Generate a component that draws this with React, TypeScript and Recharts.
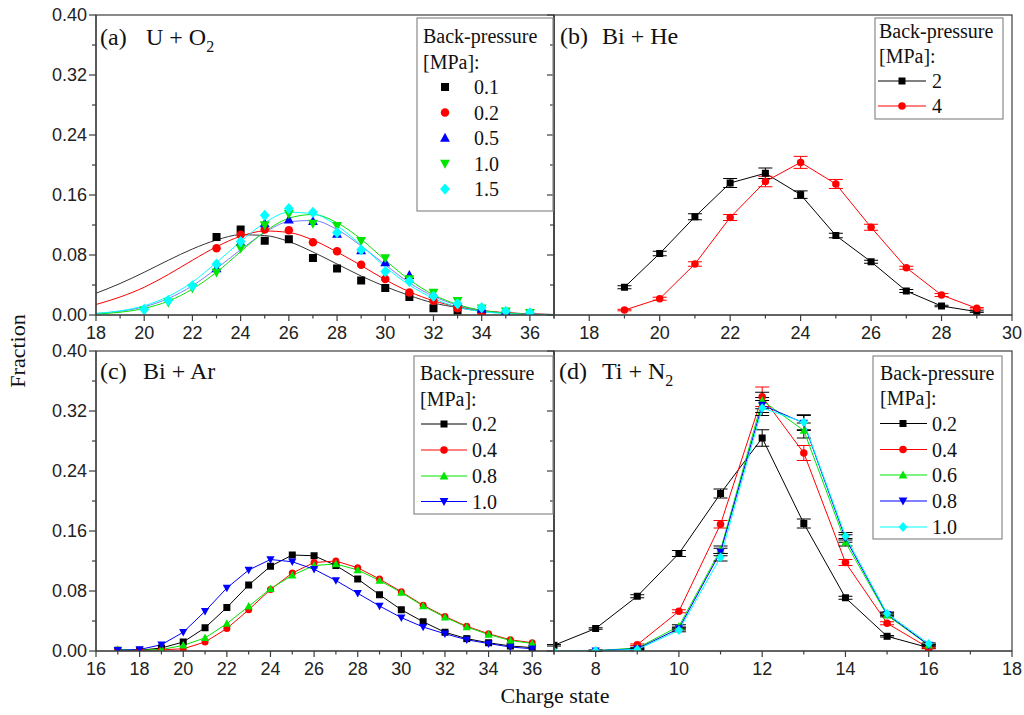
import { ComposedChart, ErrorBar, Line, XAxis, YAxis } from "recharts";

// ---------- (a) U + O2 : measured points ----------
const aX01 = [23, 24, 25, 26, 27, 28, 29, 30, 31, 32, 33, 34, 35];
const aY01 = [0.104, 0.114, 0.099, 0.101, 0.076, 0.062, 0.046, 0.036, 0.024, 0.009, 0.006, 0.002, 0.001];
const aX02 = [23, 24, 25, 26, 27, 28, 29, 30, 31, 32, 33, 34, 35];
const aY02 = [0.089, 0.107, 0.114, 0.113, 0.097, 0.085, 0.067, 0.048, 0.03, 0.019, 0.009, 0.003, 0.001];
const aX05 = [23, 24, 25, 26, 27, 28, 29, 30, 31, 32, 33, 34, 35, 36];
const aY05 = [0.062, 0.097, 0.122, 0.127, 0.125, 0.108, 0.086, 0.07, 0.053, 0.028, 0.017, 0.008, 0.004, 0.002];
const aX10 = [20, 21, 22, 23, 24, 25, 26, 27, 28, 29, 30, 31, 32, 33, 34, 35, 36];
const aY10 = [0.006, 0.017, 0.036, 0.057, 0.089, 0.12, 0.135, 0.122, 0.119, 0.099, 0.076, 0.048, 0.03, 0.019, 0.009, 0.005, 0.003];
const aX15 = [20, 21, 22, 23, 24, 25, 26, 27, 28, 29, 30, 31, 32, 33, 34, 35, 36];
const aY15 = [0.0075, 0.0195, 0.039, 0.068, 0.098, 0.133, 0.142, 0.137, 0.11, 0.087, 0.058, 0.045, 0.025, 0.015, 0.01, 0.005, 0.003];

// ---------- (a) fitted curves ----------
const aFitX = [18, 19, 20, 21, 22, 23, 24, 25, 26, 27, 28, 29, 30, 31, 32, 33, 34, 35, 36, 37];
const aFit01 = [0.029, 0.042, 0.057, 0.073, 0.088, 0.1, 0.107, 0.106, 0.098, 0.084, 0.068, 0.052, 0.038, 0.026, 0.016, 0.01, 0.005, 0.003, 0.0015, 0.0007];
const aFit02 = [0.014, 0.024, 0.037, 0.054, 0.073, 0.091, 0.105, 0.112, 0.11, 0.1, 0.084, 0.066, 0.047, 0.031, 0.019, 0.011, 0.006, 0.003, 0.0013, 0.0005];
const aFit05 = [0.002, 0.005, 0.011, 0.022, 0.039, 0.062, 0.087, 0.11, 0.1245, 0.126, 0.114, 0.092, 0.067, 0.043, 0.025, 0.013, 0.006, 0.0025, 0.0009, 0.0003];
const aFit10 = [0.0014, 0.0037, 0.0088, 0.0185, 0.0346, 0.057, 0.0845, 0.111, 0.129, 0.134, 0.123, 0.101, 0.073, 0.047, 0.027, 0.014, 0.0063, 0.0026, 0.0009, 0.0003];
const aFit15 = [0.0022, 0.0055, 0.0124, 0.0248, 0.044, 0.07, 0.098, 0.123, 0.137, 0.135, 0.119, 0.093, 0.064, 0.04, 0.022, 0.0106, 0.0046, 0.0018, 0.0006, 0.0002];

// ---------- (b) Bi + He ----------
const bX = [19, 20, 21, 22, 23, 24, 25, 26, 27, 28, 29];
const bY2 = [0.037, 0.082, 0.131, 0.176, 0.189, 0.1605, 0.106, 0.071, 0.032, 0.012, 0.0045];
const bE2 = [0.002, 0.003, 0.004, 0.006, 0.007, 0.005, 0.003, 0.002, 0.002, 0.001, 0.001];
const bY4 = [0.0066, 0.0217, 0.068, 0.13, 0.178, 0.2035, 0.1747, 0.117, 0.063, 0.0266, 0.0089];
const bE4 = [0.001, 0.002, 0.003, 0.004, 0.007, 0.008, 0.006, 0.004, 0.002, 0.002, 0.001];

// ---------- (c) Bi + Ar ----------
const cX = [17, 18, 19, 20, 21, 22, 23, 24, 25, 26, 27, 28, 29, 30, 31, 32, 33, 34, 35, 36];
const cY02 = [0.001, 0.001, 0.004, 0.012, 0.031, 0.058, 0.088, 0.113, 0.128, 0.127, 0.114, 0.096, 0.075, 0.055, 0.039, 0.025, 0.0165, 0.011, 0.0067, 0.0045];
const cY04 = [0.0, 0.0005, 0.0015, 0.003, 0.012, 0.03, 0.055, 0.082, 0.104, 0.118, 0.12, 0.111, 0.096, 0.079, 0.061, 0.046, 0.033, 0.023, 0.015, 0.011];
const cY08 = [0.002, 0.001, 0.002, 0.0075, 0.0175, 0.0365, 0.0595, 0.083, 0.101, 0.114, 0.116, 0.108, 0.094, 0.078, 0.06, 0.045, 0.032, 0.022, 0.014, 0.01];
const cY10 = [0.001, 0.002, 0.0084, 0.025, 0.053, 0.084, 0.108, 0.122, 0.119, 0.109, 0.094, 0.077, 0.06, 0.0445, 0.032, 0.023, 0.015, 0.0099, 0.0053, 0.003];

// ---------- (d) Ti + N2 ----------
const dX02 = [7, 8, 9, 10, 11, 12, 13, 14, 15, 16];
const dY02 = [0.0076, 0.03, 0.073, 0.13, 0.21, 0.284, 0.17, 0.071, 0.0196, 0.0044];
const dE02 = [0.001, 0.001, 0.002, 0.004, 0.006, 0.011, 0.006, 0.002, 0.001, 0.001];
const dX04 = [9, 10, 11, 12, 13, 14, 15, 16];
const dY04 = [0.0084, 0.053, 0.169, 0.339, 0.264, 0.118, 0.037, 0.004];
const dE04 = [0.001, 0.002, 0.005, 0.013, 0.01, 0.004, 0.002, 0.001];
const dX06 = [8, 9, 10, 11, 12, 13, 14, 15, 16];
const dY06 = [0.0005, 0.004, 0.033, 0.135, 0.334, 0.294, 0.145, 0.0475, 0.0076];
const dE06 = [0.0005, 0.001, 0.002, 0.005, 0.011, 0.01, 0.005, 0.002, 0.001];
const dX08 = [8, 9, 10, 11, 12, 13, 14, 15, 16];
const dY08 = [0.0005, 0.003, 0.03, 0.132, 0.328, 0.304, 0.15, 0.049, 0.008];
const dE08 = [0.0005, 0.001, 0.002, 0.005, 0.01, 0.01, 0.005, 0.002, 0.001];
const dX10 = [7, 8, 9, 10, 11, 12, 13, 14, 15, 16];
const dY10 = [0.0, 0.0005, 0.002, 0.0276, 0.125, 0.324, 0.305, 0.153, 0.05, 0.0098];
const dE10 = [0.0, 0.0005, 0.001, 0.002, 0.005, 0.01, 0.01, 0.005, 0.002, 0.001];

// ---------- axes ----------
const Y_TICKS = [0, 0.04, 0.08, 0.12, 0.16, 0.2, 0.24, 0.28, 0.32, 0.36, 0.4];
const X_TICKS_A = [18, 19, 20, 21, 22, 23, 24, 25, 26, 27, 28, 29, 30, 31, 32, 33, 34, 35, 36, 37];
const X_TICKS_B = [17, 18, 19, 20, 21, 22, 23, 24, 25, 26, 27, 28, 29, 30];
const X_TICKS_C = [16, 17, 18, 19, 20, 21, 22, 23, 24, 25, 26, 27, 28, 29, 30, 31, 32, 33, 34, 35, 36, 37];
const X_TICKS_D = [7, 8, 9, 10, 11, 12, 13, 14, 15, 16, 17, 18];

const SERIF = '"Liberation Serif", "Times New Roman", serif';
const SANS = '"Liberation Sans", Arial, sans-serif';
const AXIS = "#3c3c3c";
const BLACK = "#000000";
const RED = "#ff0000";
const BLUE = "#0000ff";
const GREEN = "#00e600";
const CYAN = "#00ffff";

type Shape = "square" | "circle" | "up" | "down" | "diamond";

const series = (xs: number[], ys: number[], es?: number[]) =>
  xs.map((x, i) => ({ x, y: ys[i], e: es ? es[i] : 0 }));

function Marker({ shape, cx, cy, size, fill }: { shape: Shape; cx: number; cy: number; size: number; fill: string }) {
  const h = size / 2;
  if (cx == null || cy == null) return null;
  switch (shape) {
    case "square":
      return <rect x={cx - h} y={cy - h} width={size} height={size} fill={fill} />;
    case "circle":
      return <circle cx={cx} cy={cy} r={h} fill={fill} />;
    case "up":
      return <polygon points={`${cx},${cy - h * 1.15} ${cx + h * 1.1},${cy + h * 0.85} ${cx - h * 1.1},${cy + h * 0.85}`} fill={fill} />;
    case "down":
      return <polygon points={`${cx},${cy + h * 1.15} ${cx + h * 1.1},${cy - h * 0.85} ${cx - h * 1.1},${cy - h * 0.85}`} fill={fill} />;
    default:
      return <polygon points={`${cx},${cy - h * 1.25} ${cx + h * 1.1},${cy} ${cx},${cy + h * 1.25} ${cx - h * 1.1},${cy}`} fill={fill} />;
  }
}

const dot = (shape: Shape, size: number, fill: string) => (p: any) => (
  <Marker key={`m${p.index}`} shape={shape} cx={p.cx} cy={p.cy} size={size} fill={fill} />
);

const XTick = (p: any) => {
  const v = p.payload.value;
  const major = v % 2 === 0;
  return (
    <g>
      <line x1={p.x} x2={p.x} y1={p.y} y2={p.y + (major ? 6 : 3.5)} stroke={AXIS} strokeWidth={1.2} />
      {major && (
        <text x={p.x} y={p.y + 24} textAnchor="middle" fontSize={18} fontFamily={SANS} fill="#222">
          {v}
        </text>
      )}
    </g>
  );
};

const makeYTick = (labels: boolean) => (p: any) => {
  const major = p.index % 2 === 0;
  return (
    <g>
      <line x1={p.x - (major ? 7 : 4)} x2={p.x} y1={p.y} y2={p.y} stroke={AXIS} strokeWidth={1.2} />
      {labels && major && (
        <text x={p.x - 9} y={p.y + 6} textAnchor="end" fontSize={18} fontFamily={SANS} fill="#222">
          {Number(p.payload.value).toFixed(2)}
        </text>
      )}
    </g>
  );
};

function Panel({ left, top, width, right, yWidth, labels, domain, ticks, children }: any) {
  return (
    <div style={{ position: "absolute", left, top }}>
      <ComposedChart width={width} height={345} margin={{ top: 15, right, bottom: 0, left: 0 }}>
        <XAxis
          type="number"
          dataKey="x"
          domain={domain}
          ticks={ticks}
          interval={0}
          tick={XTick}
          tickSize={0}
          tickMargin={0}
          height={30}
          stroke={AXIS}
          strokeWidth={1.2}
          allowDataOverflow
        />
        <YAxis
          type="number"
          domain={[0, 0.4]}
          ticks={Y_TICKS}
          interval={0}
          tick={makeYTick(labels)}
          tickSize={0}
          tickMargin={0}
          width={yWidth}
          stroke={AXIS}
          strokeWidth={1.2}
          allowDataOverflow
        />
        {children}
      </ComposedChart>
    </div>
  );
}

function Title({ x, x2, y, tag, body, sub }: { x: number; x2: number; y: number; tag: string; body: string; sub?: string }) {
  return (
    <text y={y} fontFamily={SERIF} fontSize={24} fill="#111">
      <tspan x={x}>{tag}</tspan>
      <tspan x={x2}>{body}</tspan>
      {sub && (
        <tspan dy={7} fontSize={16}>
          {sub}
        </tspan>
      )}
    </text>
  );
}

type Item = { label: string; shape: Shape; color: string; size: number };

function LegendBox({ box, textX, rows, symX, labelX, line, items }: {
  box: [number, number, number, number];
  textX: number;
  rows: number[];
  symX: number;
  labelX: number;
  line?: [number, number];
  items: Item[];
}) {
  return (
    <g fontFamily={SERIF} fontSize={20} fill="#111">
      <rect x={box[0]} y={box[1]} width={box[2]} height={box[3]} fill="none" stroke="#8a8a8a" strokeWidth={1.2} />
      <text x={textX} y={rows[0]}>Back-pressure</text>
      <text x={textX} y={rows[1]}>[MPa]:</text>
      {items.map((it, i) => {
        const cy = rows[i + 2] - 7;
        return (
          <g key={it.label}>
            {line && <line x1={line[0]} x2={line[1]} y1={cy} y2={cy} stroke={it.color} strokeWidth={1} />}
            <Marker shape={it.shape} cx={symX} cy={cy} size={it.size} fill={it.color} />
            <text x={labelX} y={rows[i + 2]}>{it.label}</text>
          </g>
        );
      })}
    </g>
  );
}

export default function App() {
  return (
    <div style={{ position: "absolute", left: 0, top: 0, width: 1024, height: 715, background: "#fff", overflow: "hidden" }}>
      {/* (a) */}
      <Panel left={0} top={0} width={560} right={6} yWidth={96} labels domain={[18, 37]} ticks={X_TICKS_A}>
        <Line data={series(aFitX, aFit01)} dataKey="y" type="monotone" stroke="#333" strokeWidth={1} dot={false} activeDot={false} isAnimationActive={false} />
        <Line data={series(aFitX, aFit02)} dataKey="y" type="monotone" stroke={RED} strokeWidth={1} dot={false} activeDot={false} isAnimationActive={false} />
        <Line data={series(aFitX, aFit05)} dataKey="y" type="monotone" stroke="#7a7aff" strokeWidth={1} dot={false} activeDot={false} isAnimationActive={false} />
        <Line data={series(aFitX, aFit10)} dataKey="y" type="monotone" stroke={GREEN} strokeWidth={1} dot={false} activeDot={false} isAnimationActive={false} />
        <Line data={series(aFitX, aFit15)} dataKey="y" type="monotone" stroke={CYAN} strokeWidth={1} dot={false} activeDot={false} isAnimationActive={false} />
        <Line data={series(aX01, aY01)} dataKey="y" stroke="none" dot={dot("square", 8, BLACK)} activeDot={false} isAnimationActive={false} />
        <Line data={series(aX02, aY02)} dataKey="y" stroke="none" dot={dot("circle", 8.5, RED)} activeDot={false} isAnimationActive={false} />
        <Line data={series(aX05, aY05)} dataKey="y" stroke="none" dot={dot("up", 9, BLUE)} activeDot={false} isAnimationActive={false} />
        <Line data={series(aX10, aY10)} dataKey="y" stroke="none" dot={dot("down", 9, GREEN)} activeDot={false} isAnimationActive={false} />
        <Line data={series(aX15, aY15)} dataKey="y" stroke="none" dot={dot("diamond", 9, CYAN)} activeDot={false} isAnimationActive={false} />
      </Panel>

      {/* (b) */}
      <Panel left={500} top={0} width={524} right={12} yWidth={54} labels={false} domain={[17, 30]} ticks={X_TICKS_B}>
        <Line data={series(bX, bY2, bE2)} dataKey="y" stroke={BLACK} strokeWidth={1} dot={dot("square", 7, BLACK)} activeDot={false} isAnimationActive={false}>
          <ErrorBar dataKey="e" width={7} stroke={BLACK} strokeWidth={1} direction="y" />
        </Line>
        <Line data={series(bX, bY4, bE4)} dataKey="y" stroke={RED} strokeWidth={1} dot={dot("circle", 7.5, RED)} activeDot={false} isAnimationActive={false}>
          <ErrorBar dataKey="e" width={7} stroke={RED} strokeWidth={1} direction="y" />
        </Line>
      </Panel>

      {/* (c) */}
      <Panel left={0} top={336} width={560} right={6} yWidth={96} labels domain={[16, 37]} ticks={X_TICKS_C}>
        <Line data={series(cX, cY02)} dataKey="y" stroke={BLACK} strokeWidth={1} dot={dot("square", 7, BLACK)} activeDot={false} isAnimationActive={false} />
        <Line data={series(cX, cY04)} dataKey="y" stroke={RED} strokeWidth={1} dot={dot("circle", 7, RED)} activeDot={false} isAnimationActive={false} />
        <Line data={series(cX, cY08)} dataKey="y" stroke={GREEN} strokeWidth={1} dot={dot("up", 7.5, GREEN)} activeDot={false} isAnimationActive={false} />
        <Line data={series(cX, cY10)} dataKey="y" stroke={BLUE} strokeWidth={1} dot={dot("down", 7.5, BLUE)} activeDot={false} isAnimationActive={false} />
      </Panel>

      {/* (d) */}
      <Panel left={500} top={336} width={524} right={12} yWidth={54} labels={false} domain={[7, 18]} ticks={X_TICKS_D}>
        <Line data={series(dX02, dY02, dE02)} dataKey="y" stroke={BLACK} strokeWidth={1} dot={dot("square", 7, BLACK)} activeDot={false} isAnimationActive={false}>
          <ErrorBar dataKey="e" width={7} stroke={BLACK} strokeWidth={1} direction="y" />
        </Line>
        <Line data={series(dX04, dY04, dE04)} dataKey="y" stroke={RED} strokeWidth={1} dot={dot("circle", 7.5, RED)} activeDot={false} isAnimationActive={false}>
          <ErrorBar dataKey="e" width={7} stroke={RED} strokeWidth={1} direction="y" />
        </Line>
        <Line data={series(dX06, dY06, dE06)} dataKey="y" stroke={GREEN} strokeWidth={1} dot={dot("up", 7.5, GREEN)} activeDot={false} isAnimationActive={false}>
          <ErrorBar dataKey="e" width={7} stroke={BLACK} strokeWidth={1} direction="y" />
        </Line>
        <Line data={series(dX08, dY08, dE08)} dataKey="y" stroke={BLUE} strokeWidth={1} dot={dot("down", 7.5, BLUE)} activeDot={false} isAnimationActive={false}>
          <ErrorBar dataKey="e" width={7} stroke={BLACK} strokeWidth={1} direction="y" />
        </Line>
        <Line data={series(dX10, dY10, dE10)} dataKey="y" stroke={CYAN} strokeWidth={1} dot={dot("diamond", 7.5, CYAN)} activeDot={false} isAnimationActive={false}>
          <ErrorBar dataKey="e" width={7} stroke={BLACK} strokeWidth={1} direction="y" />
        </Line>
      </Panel>

      {/* frames, titles, legends, axis titles */}
      <svg width={1024} height={715} style={{ position: "absolute", left: 0, top: 0, pointerEvents: "none" }}>
        <g fill="none" stroke={AXIS} strokeWidth={1.2}>
          <rect x={96} y={15} width={458} height={300} />
          <rect x={554} y={15} width={458} height={300} />
          <rect x={96} y={351} width={458} height={300} />
          <rect x={554} y={351} width={458} height={300} />
        </g>
        <Title x={100} x2={146} y={45} tag="(a)" body="U + O" sub="2" />
        <Title x={560} x2={602} y={44} tag="(b)" body="Bi + He" />
        <Title x={100} x2={143} y={379} tag="(c)" body="Bi + Ar" />
        <Title x={559} x2={602} y={379} tag="(d)" body="Ti + N" sub="2" />

        <LegendBox
          box={[417, 18, 136, 193]}
          textX={423}
          rows={[43, 68.5, 94, 119.5, 145, 170.5, 196]}
          symX={445}
          labelX={474}
          items={[
            { label: "0.1", shape: "square", color: BLACK, size: 8 },
            { label: "0.2", shape: "circle", color: RED, size: 8.5 },
            { label: "0.5", shape: "up", color: BLUE, size: 9 },
            { label: "1.0", shape: "down", color: GREEN, size: 9 },
            { label: "1.5", shape: "diamond", color: CYAN, size: 9 },
          ]}
        />
        <LegendBox
          box={[875, 18, 128, 101]}
          textX={879}
          rows={[38, 63, 88, 113]}
          symX={902}
          labelX={932}
          line={[878, 926]}
          items={[
            { label: "2", shape: "square", color: BLACK, size: 7 },
            { label: "4", shape: "circle", color: RED, size: 7.5 },
          ]}
        />
        <LegendBox
          box={[414, 356, 139, 158]}
          textX={420}
          rows={[380, 405.5, 431, 457, 483, 508.5]}
          symX={444}
          labelX={472}
          line={[421, 467]}
          items={[
            { label: "0.2", shape: "square", color: BLACK, size: 7 },
            { label: "0.4", shape: "circle", color: RED, size: 7.5 },
            { label: "0.8", shape: "up", color: GREEN, size: 8 },
            { label: "1.0", shape: "down", color: BLUE, size: 8 },
          ]}
        />
        <LegendBox
          box={[873, 356, 129, 183]}
          textX={880}
          rows={[380, 405, 430.5, 456.5, 482, 508, 534]}
          symX={903}
          labelX={932}
          line={[880, 927]}
          items={[
            { label: "0.2", shape: "square", color: BLACK, size: 7 },
            { label: "0.4", shape: "circle", color: RED, size: 7.5 },
            { label: "0.6", shape: "up", color: GREEN, size: 8 },
            { label: "0.8", shape: "down", color: BLUE, size: 8 },
            { label: "1.0", shape: "diamond", color: CYAN, size: 8 },
          ]}
        />

        <text transform="translate(25, 351) rotate(-90)" textAnchor="middle" fontFamily={SERIF} fontSize={22} fill="#111">
          Fraction
        </text>
        <text x={555} y={703} textAnchor="middle" fontFamily={SERIF} fontSize={22} fill="#111">
          Charge state
        </text>
      </svg>
    </div>
  );
}
